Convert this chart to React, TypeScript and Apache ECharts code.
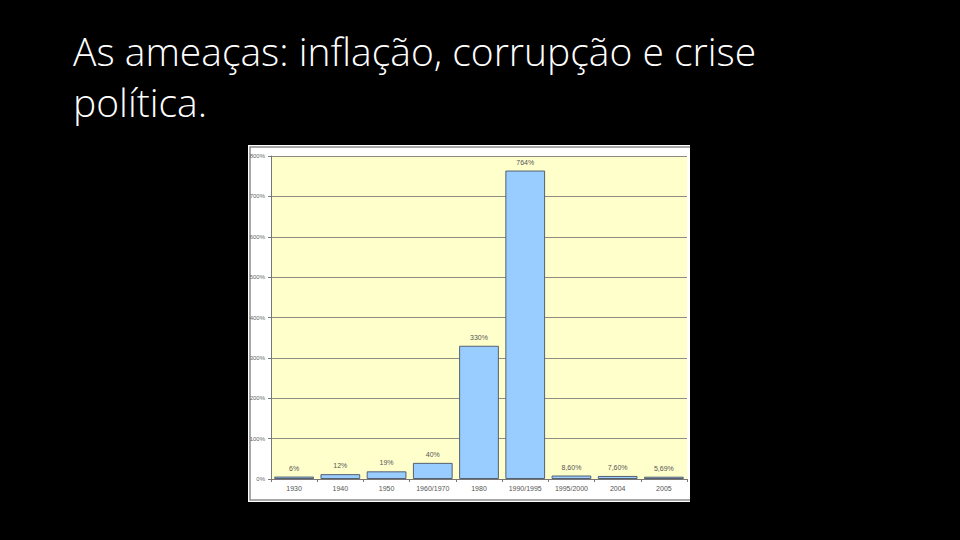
import React, { useEffect, useRef } from "react";
import * as echarts from "echarts";

const titleLines = ["As ameaças: inflação, corrupção e crise", "política."];
const categories = ["1930", "1940", "1950", "1960/1970", "1980", "1990/1995", "1995/2000", "2004", "2005"];
const values = [6, 12, 19, 40, 330, 764, 8.6, 7.6, 5.69];
const valueLabels = ["6%", "12%", "19%", "40%", "330%", "764%", "8,60%", "7,60%", "5,69%"];

export default function App() {
  const ref = useRef<HTMLDivElement>(null);
  useEffect(() => {
    document.body.style.margin = "0";
    document.body.style.background = "#000";
    const chart = echarts.init(ref.current!, null, { renderer: "svg" });
    chart.setOption({
      animation: false,
      backgroundColor: "#000000",
      graphic: [
        {
          type: "rect",
          shape: { x: 248, y: 145, width: 442, height: 357 },
          style: { fill: "#ffffff" },
          z: -10,
        },
        {
          type: "rect",
          shape: { x: 250, y: 147, width: 445, height: 353 },
          style: { fill: "none", stroke: "#8a8a8a", lineWidth: 1.5 },
          z: -9,
        },
        {
          type: "rect",
          shape: { x: 690, y: 140, width: 20, height: 370 },
          style: { fill: "#000000" },
          z: 100,
        },
        ...titleLines.map((t, i) => ({
          type: "text",
          x: 73,
          y: 31 + i * 51,
          style: {
            text: t,
            fill: "#ffffff",
            font: "300 39px 'Open Sans', sans-serif",
            verticalAlign: "top",
          },
        })),
      ],
      grid: {
        left: 271,
        right: 273,
        top: 156,
        bottom: 61,
        show: true,
        backgroundColor: "#FFFFCC",
        borderWidth: 0,
      },
      xAxis: {
        type: "category",
        data: categories,
        axisLine: { lineStyle: { color: "#777777", width: 1 } },
        axisTick: { show: true, length: 3, lineStyle: { color: "#777777" } },
        axisLabel: { fontSize: 7, color: "#555555", margin: 6, fontFamily: "Liberation Sans, Arial, sans-serif", interval: 0 },
      },
      yAxis: {
        type: "value",
        min: 0,
        max: 800,
        interval: 100,
        axisLine: { show: true, lineStyle: { color: "#777777" } },
        axisTick: { show: true, length: 3, lineStyle: { color: "#777777" } },
        axisLabel: { formatter: "{value}%", fontSize: 6, color: "#666666", margin: 6, fontFamily: "Liberation Sans, Arial, sans-serif" },
        splitLine: { show: true, lineStyle: { color: "#8c8c80", width: 1 } },
      },
      series: [
        {
          type: "bar",
          data: values,
          barCategoryGap: "14%",
          itemStyle: { color: "#99CCFF", borderColor: "#556070", borderWidth: 1 },
          label: {
            show: true,
            position: "top",
            distance: 5,
            fontSize: 7,
            color: "#555555",
            fontFamily: "Liberation Sans, Arial, sans-serif",
            formatter: (p: any) => valueLabels[p.dataIndex],
          },
        },
      ],
    });
    return () => chart.dispose();
  }, []);
  return <div ref={ref} style={{ position: "fixed", left: 0, top: 0, width: 960, height: 540 }} />;
}
